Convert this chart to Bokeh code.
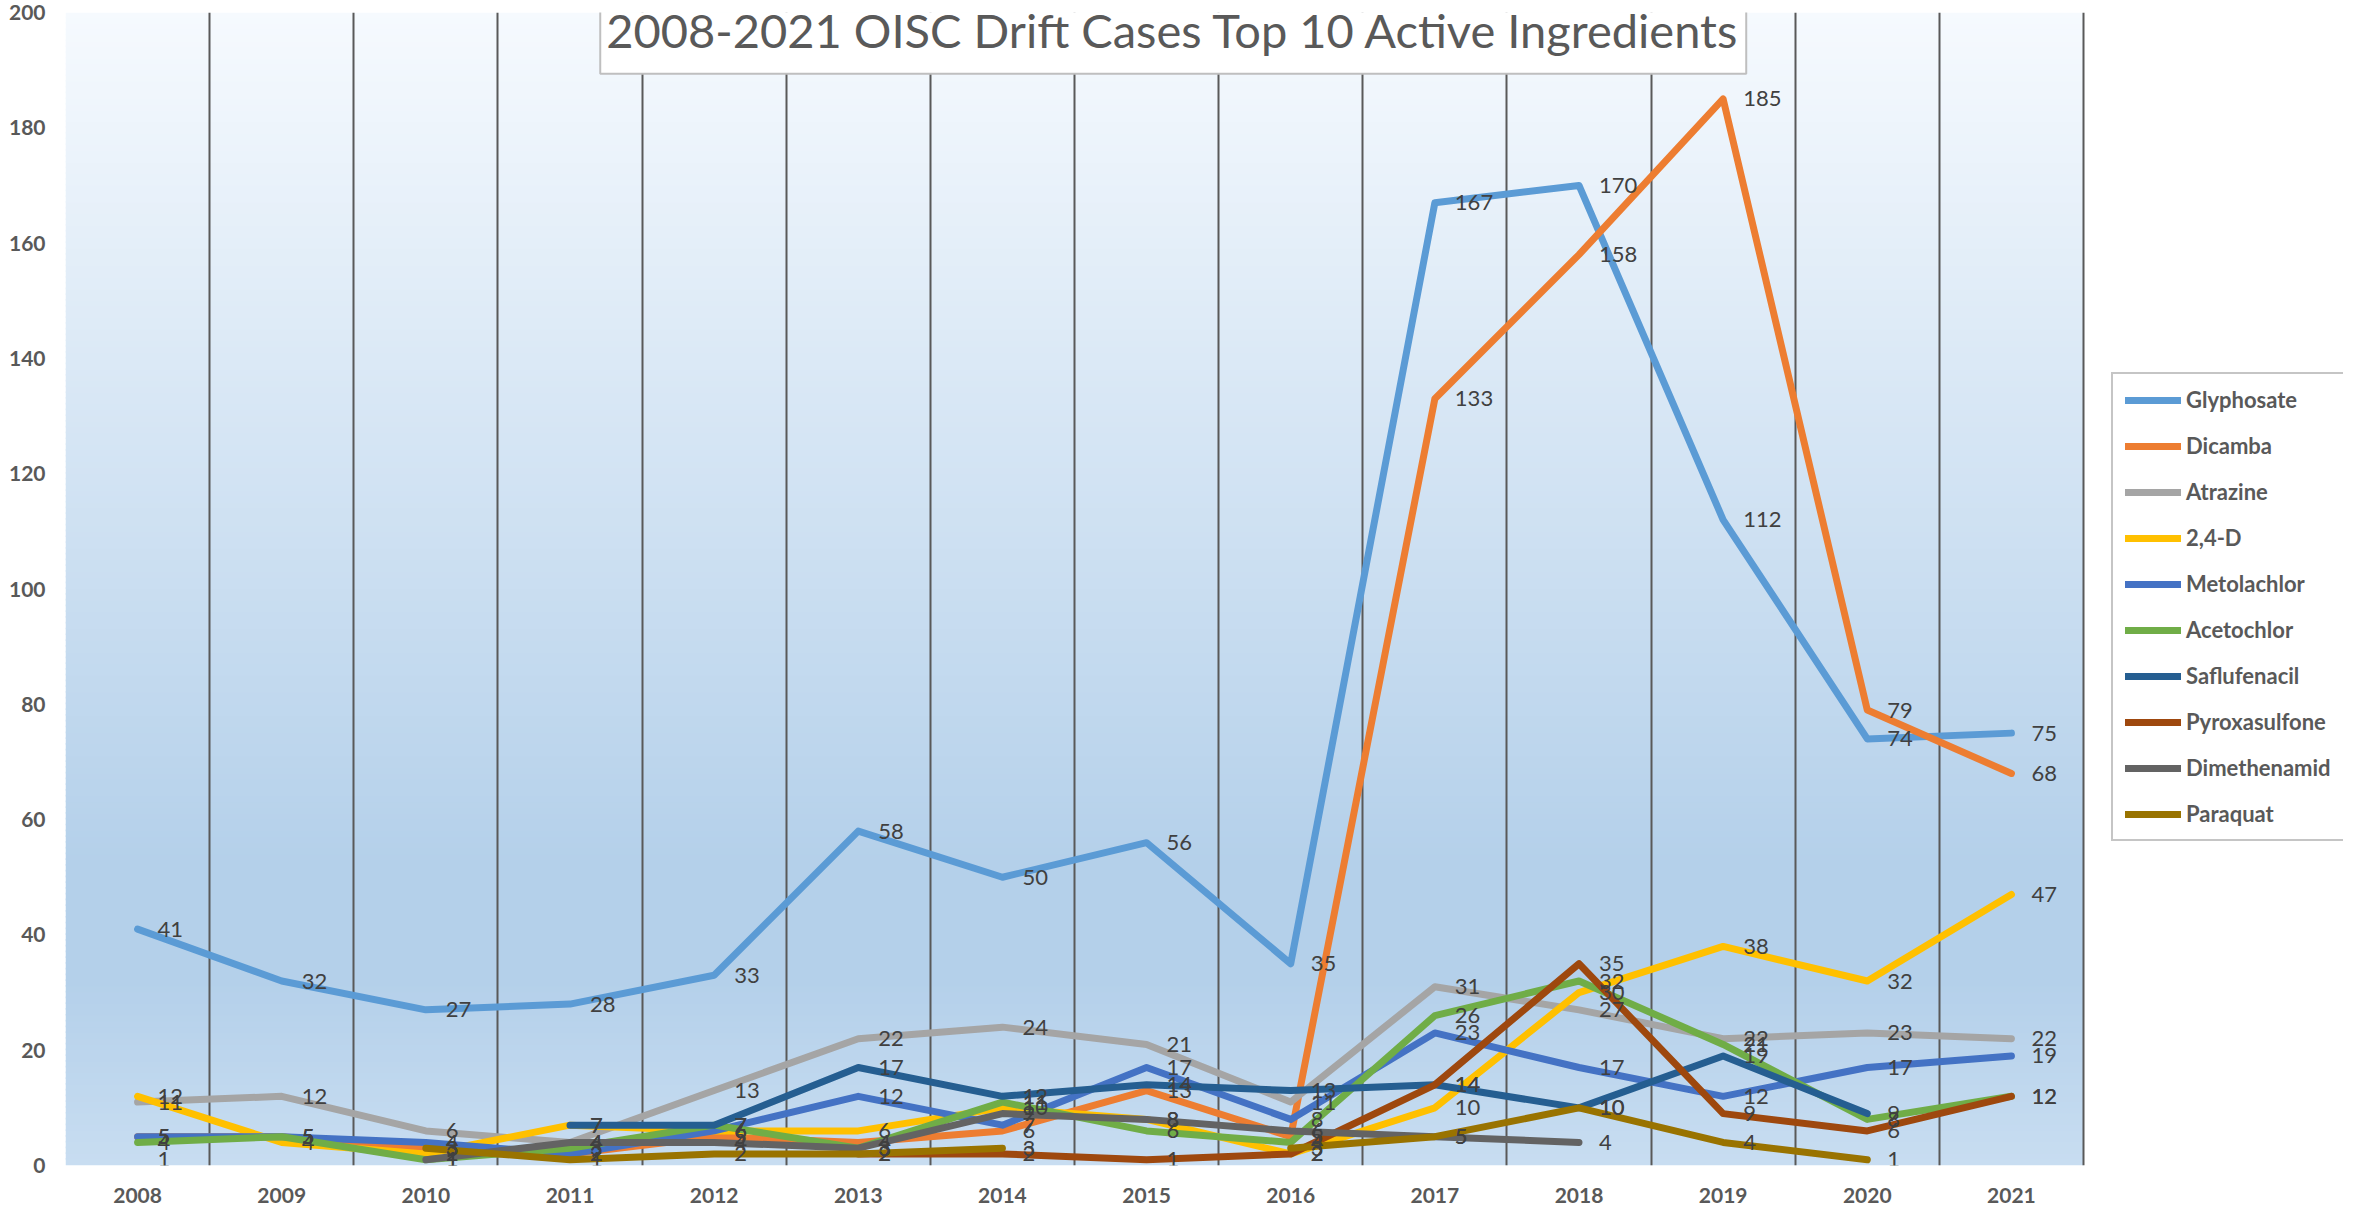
import numpy as np
from bokeh.plotting import figure
from bokeh.models import ColumnDataSource, Range1d, FixedTicker, Legend, LegendItem, Label
from bokeh.core.properties import value
from bokeh.embed import file_html
from bokeh.resources import INLINE

nan = float("nan")

years = ["2008", "2009", "2010", "2011", "2012", "2013", "2014",
         "2015", "2016", "2017", "2018", "2019", "2020", "2021"]

series_names = ["Glyphosate", "Dicamba", "Atrazine", "2,4-D", "Metolachlor",
                "Acetochlor", "Saflufenacil", "Pyroxasulfone", "Dimethenamid", "Paraquat"]

glyphosate = [41, 32, 27, 28, 33, 58, 50, 56, 35, 167, 170, 112, 74, 75]
dicamba = [5, 5, 3, 2, 5, 4, 6, 13, 5, 133, 158, 185, 79, 68]
atrazine = [11, 12, 6, 4, 13, 22, 24, 21, 11, 31, 27, 22, 23, 22]
d24 = [12, 4, 2, 7, 6, 6, 10, 8, 2, 10, 30, 38, 32, 47]
metolachlor = [5, 5, 4, 2, 6, 12, 7, 17, 8, 23, 17, 12, 17, 19]
acetochlor = [4, 5, 1, 3, 7, 3, 11, 6, 4, 26, 32, 21, 8, 12]
saflufenacil = [nan, nan, nan, 7, 7, 17, 12, 14, 13, 14, 10, 19, 9, nan]
pyroxasulfone = [1, nan, nan, nan, nan, 2, 2, 1, 2, 14, 35, 9, 6, 12]
dimethenamid = [nan, nan, 1, 4, 4, 3, 9, 8, 6, 5, 4, nan, nan, nan]
paraquat = [nan, nan, 3, 1, 2, 2, 3, nan, 3, 5, 10, 4, 1, nan]

series_values = [glyphosate, dicamba, atrazine, d24, metolachlor,
                 acetochlor, saflufenacil, pyroxasulfone, dimethenamid, paraquat]

colors = ["#5B9BD5", "#ED7D31", "#A5A5A5", "#FFC000", "#4472C4",
          "#70AD47", "#255E91", "#9E480E", "#636363", "#997300"]

title_text = "2008-2021 OISC Drift Cases Top 10 Active Ingredients"
y_ticks = list(range(0, 201, 20))

ncat = len(years)
FIG_W, LEFT = 2343, 65
px_per_cat = 2018 / ncat
x_end = (FIG_W - LEFT) / px_per_cat   # extra room on the right holds the legend

p = figure(width=FIG_W, height=1209, x_range=Range1d(0, x_end), y_range=Range1d(0, 200),
           output_backend="svg", toolbar_location=None,
           min_border_left=LEFT, min_border_right=0, min_border_top=12, min_border_bottom=44,
           background_fill_color="white", border_fill_color="white", outline_line_color=None)

# background gradient of the plot area (decoration)
stops = [(0.0, (246, 250, 254)), (0.74, (180, 208, 234)), (0.84, (180, 208, 234)), (1.0, (200, 221, 241))]
def grad(f):
    for (f0, c0), (f1, c1) in zip(stops[:-1], stops[1:]):
        if f0 <= f <= f1:
            t = 0 if f1 == f0 else (f - f0) / (f1 - f0)
            c = [int(round(a + (b - a) * t)) for a, b in zip(c0, c1)]
            return "#%02x%02x%02x" % tuple(c)
    return "#%02x%02x%02x" % stops[-1][1]

nstrips = 200
bottoms = [200 * i / nstrips for i in range(nstrips)]
tops = [min(200, b + 200 / nstrips * 1.3) for b in bottoms]
gcols = [grad(1 - (b + 100 / nstrips) / 200) for b in bottoms]
p.quad(left=0, right=ncat, bottom=bottoms, top=tops, fill_color=gcols, line_color=None, level="image")

# grid
p.xgrid.ticker = FixedTicker(ticks=list(range(ncat + 1)))
p.xgrid.grid_line_color = "#595959"
p.xgrid.grid_line_width = 2
p.ygrid.grid_line_color = None

# axes
xpos = [i + 0.5 for i in range(ncat)]
p.xaxis.ticker = FixedTicker(ticks=xpos)
p.xaxis.major_label_overrides = {x: y for x, y in zip(xpos, years)}
p.yaxis.ticker = FixedTicker(ticks=y_ticks)
for ax in (p.xaxis, p.yaxis):
    ax.axis_line_color = None
    ax.major_tick_line_color = None
    ax.minor_tick_line_color = None
    ax.major_label_text_font = "Lato"
    ax.major_label_text_font_style = "bold"
    ax.major_label_text_font_size = "21px"
    ax.major_label_text_color = "#595959"
p.xaxis.major_label_standoff = 16
p.yaxis.major_label_standoff = 14

items = []
for name, vals, col in zip(series_names, series_values, colors):
    src = ColumnDataSource(dict(x=xpos, y=vals))
    r = p.line("x", "y", source=src, line_color=col, line_width=7,
               line_cap="round", line_join="round")
    items.append(LegendItem(label=name, renderers=[r]))

for name, vals in zip(series_names, series_values):
    xs = [x for x, v in zip(xpos, vals) if v == v]
    vs = [v for v in vals if v == v]
    src = ColumnDataSource(dict(x=xs, y=vs, t=[str(int(v)) for v in vs]))
    p.text("x", "y", text="t", source=src, x_offset=20, text_align="left", text_baseline="middle",
           text_font=value("Lato"), text_font_size="22px", text_color="#404040")

legend = Legend(items=items, location=(2046, 324), orientation="vertical",
                label_text_font="Lato", label_text_font_style="bold", label_text_font_size="22px",
                label_text_color="#595959", glyph_width=56, glyph_height=20, label_height=20,
                label_standoff=5, spacing=19, padding=12, margin=0,
                border_line_color="#8c8c8c", border_line_width=2,
                background_fill_color="white", background_fill_alpha=1.0)
p.add_layout(legend)

title = Label(x=7.685, y=197.0, text=title_text, text_align="center", text_baseline="middle",
              text_font="Lato", text_font_size="47px", text_color="#595959",
              background_fill_color="white", background_fill_alpha=1.0,
              border_line_color="#bfbfbf", border_line_width=2,
              padding=dict(left=6, right=6, top=16, bottom=16))
p.add_layout(title)

open("out.html", "w").write(file_html(p, INLINE))
